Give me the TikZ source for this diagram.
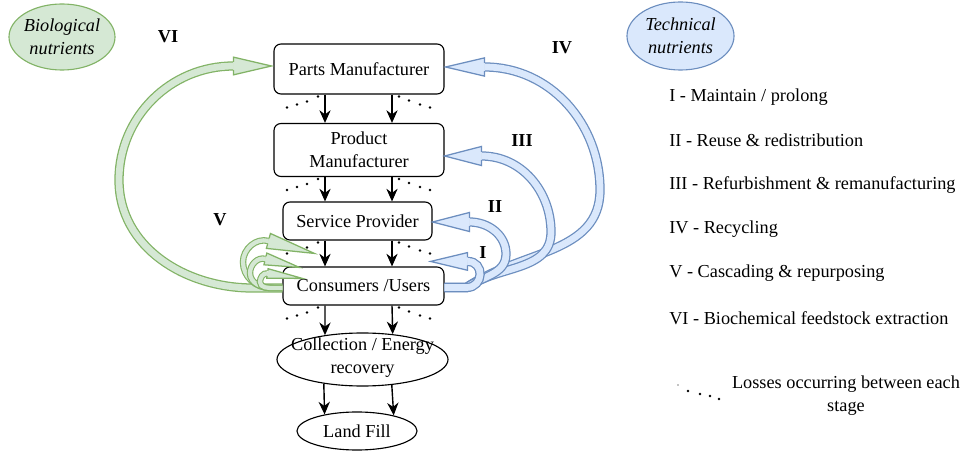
\documentclass[tikz,border=0pt]{standalone}
\usepackage{fontspec}
\setmainfont{Liberation Serif}
\usepackage{tikz}
\usetikzlibrary{arrows.meta}
\usetikzlibrary{positioning,calc}
\usetikzlibrary{shapes.geometric}
\newcommand{\diafont}{\fontsize{13}{16.5}\selectfont}
\tikzset{
    stage/.style={
      rectangle,
      rounded corners=5pt,
      draw=black,
      thick,
      align=center,
      inner sep=1.5pt
    },
    sink/.style={
      ellipse,
      draw=black,
      thick,
      inner sep=0pt
    },
    nutrient/.style={ellipse, inner sep=0pt, thick},
    phase/.style={font=\diafont\bfseries, inner sep=0pt},
    key/.style={anchor=west, inner sep=0pt},
    techbody/.style={draw=MyTechLine, line width=0.9pt, double=MyTech, double distance=4.8pt},
    techhead/.style={draw=MyTechLine, fill=MyTech, line width=0.9pt},
    biobody/.style={draw=MyBioLine, line width=0.9pt, double=MyBio, double distance=4.8pt},
    vbody/.style={draw=MyBioLine, line width=0.8pt, double=MyBio, double distance=3pt},
    biohead/.style={draw=MyBioLine, fill=MyBio, line width=0.9pt},
}
\definecolor{MyBio}{HTML}{D5E8D4}
\definecolor{MyBioLine}{HTML}{82B366}
\definecolor{MyTech}{HTML}{DAE8FC}
\definecolor{MyTechLine}{HTML}{6C8EBF}
% style, base, tip, head half width, body half width
\newcommand{\flexhead}[5]{%
  \filldraw[#1] ($(#2)!#5!90:(#3)$) -- ($(#2)!#4!90:(#3)$) -- (#3)
    -- ($(#2)!#4!-90:(#3)$) -- ($(#2)!#5!-90:(#3)$);
}
\newcommand{\lossdots}[1]{%
  \foreach \dx/\dy in {-7/2,-18/7,-28/10,-38/13}
    \fill ($(#1.south -| la)+(\dx,-\dy)$) circle (1pt);
  \foreach \dx/\dy in {7/2,17/6,28/10,38/13}
    \fill ($(#1.south -| ra)+(\dx,-\dy)$) circle (1pt);
}

\begin{document}
\begin{tikzpicture}[x=0.025cm,y=0.025cm,font=\diafont,>={Stealth[length=9pt,width=8pt]}]
    \useasboundingbox (0,0) rectangle (975,-452);

    \draw (359,-69) node[stage,minimum width=4.25cm,minimum height=1.25cm] (PM) {Parts Manufacturer};
    \draw (359,-150) node[stage,minimum width=4.25cm,minimum height=1.325cm] (PR) {Product\\Manufacturer};
    \draw (357.5,-221) node[stage,minimum width=3.725cm,minimum height=0.95cm] (SP) {Service Provider};
    \draw (363.5,-286) node[stage,minimum width=4.025cm,minimum height=0.95cm] (CU) {Consumers /Users};
    \draw (362.5,-359.5) node[sink,minimum width=4.275cm,minimum height=1.325cm] (CE) {};
    \draw (362.5,-358) node[align=center,inner sep=0pt] (CEt) {Collection / Energy\\recovery};
    \draw (357,-431) node[sink,minimum width=3cm,minimum height=0.95cm] (LF) {Land Fill};

    \coordinate (la) at (325,0);
    \coordinate (ra) at (392,0);
    \path (PM.south -| la) edge[->,line width=1pt] (PR.north -| la);
    \path (PM.south -| ra) edge[->,line width=1pt] (PR.north -| ra);
    \path (PR.south -| la) edge[->,line width=1pt] (SP.north -| la);
    \path (PR.south -| ra) edge[->,line width=1pt] (SP.north -| ra);
    \path (SP.south -| la) edge[->,line width=1pt] (CU.north -| la);
    \path (SP.south -| ra) edge[->,line width=1pt] (CU.north -| ra);
    \path (CU.south -| la) edge[->,line width=1pt] (CE.147.6);
    \path (CU.south -| ra) edge[->,line width=1pt] (CE.40.2);
    \path (CE.212.4) edge[->,line width=1pt] (LF.153.3);
    \path (CE.319.8) edge[->,line width=1pt] (LF.23.8);

    \lossdots{PM}
    \lossdots{PR}
    \lossdots{SP}
    \lossdots{CU}

    % technical loops
    \coordinate (fanT) at ($(CU.east)+(22,-1.5)$);
    \coordinate (IVb) at ($(PM.east)+(40,2)$);
    \coordinate (IVt) at ($(PM.east)+(1,2)$);
    \draw[techbody] ($(CU.east)+(0,-1.5)$) -- (fanT) to[out=35,in=-90] (600,-190) to[out=90,in=0] (IVb);
    \flexhead{techhead}{IVb}{IVt}{6.5pt}{2.85pt}
    \coordinate (IIIb) at ($(PR.east)+(37,-6)$);
    \coordinate (IIIt) at ($(PR.east)+(0,-6)$);
    \draw[techbody] ($(CU.east)+(0,-1.5)$) -- (fanT) to[out=35,in=-90] (551,-232) to[out=90,in=0] (IIIb);
    \flexhead{techhead}{IIIb}{IIIt}{6.8pt}{2.85pt}
    \coordinate (IIb) at ($(SP.east)+(37,-1)$);
    \coordinate (IIt) at ($(SP.east)+(0,-1)$);
    \draw[techbody] ($(CU.east)+(0,-1.5)$) -- (fanT) to[out=35,in=-90] (506,-254) to[out=90,in=0] (IIb);
    \flexhead{techhead}{IIb}{IIt}{6.8pt}{2.85pt}
    \coordinate (Ib) at ($(CU.north east)+(23,5)$);
    \coordinate (It) at ($(CU.north east)+(-14,5)$);
    \draw[techbody] ($(CU.east)+(0,-1.5)$) -- (fanT) to[out=0,in=0,looseness=1.7] (Ib);
    \flexhead{techhead}{Ib}{It}{6.3pt}{2.85pt}

    % biological loops
    \coordinate (fanB) at ($(CU.west)+(-30,-2)$);
    \coordinate (VIb) at ($(PM.west)+(-40,3)$);
    \coordinate (VIt) at ($(PM.west)+(-2,3)$);
    \draw[biobody] ($(CU.west)+(0,-2)$) -- (fanB) to[out=180,in=-90] (119,-180) to[out=90,in=180] (VIb);
    \flexhead{biohead}{VIb}{VIt}{6.3pt}{2.85pt}
    \coordinate (V1b) at ($(CU.north west)+(-14,25.5)$);
    \coordinate (V1t) at ($(CU.north west)+(32,13)$);
    \draw[vbody] ($(CU.west)+(0,-2)$) -- ($(CU.west)+(-12,-2)$) to[out=180,in=-90] (243,-262) to[out=90,in=165] (V1b);
    \flexhead{biohead}{V1b}{V1t}{5.5pt}{1.9pt}
    \coordinate (V2b) at ($(CU.north west)+(-17,7.5)$);
    \coordinate (V2t) at ($(CU.north west)+(17,-1)$);
    \draw[vbody] ($(CU.west)+(0,-2)$) -- ($(CU.west)+(-10,-2)$) to[out=180,in=-90] (250,-273) to[out=90,in=165] (V2b);
    \flexhead{biohead}{V2b}{V2t}{4.3pt}{1.9pt}
    \coordinate (V3b) at ($(CU.north west)+(-15,-7)$);
    \coordinate (V3t) at ($(CU.north west)+(20,-12)$);
    \draw[vbody] ($(CU.west)+(0,-2)$) -- ($(CU.west)+(-8,-2)$) to[out=180,in=-90] (260,-282) to[out=90,in=172] (V3b);
    \flexhead{biohead}{V3b}{V3t}{3.4pt}{1.9pt}

    \draw (62,-37) node[nutrient,draw=MyBioLine,fill=MyBio,minimum width=2.65cm,minimum height=1.65cm] (BN) {};
    \draw (62,-37) node[align=center,inner sep=0pt,font=\diafont\itshape] (BNt) {Biological\\nutrients};
    \draw (680.5,-36) node[nutrient,draw=MyTechLine,fill=MyTech,minimum width=2.675cm,minimum height=1.7cm] (TN) {};
    \draw (680.5,-36) node[align=center,inner sep=0pt,font=\diafont\itshape] (TNt) {Technical\\nutrients};

    \draw (168,-37) node[phase] (nVI) {VI};
    \draw (562,-48) node[phase] (nIV) {IV};
    \draw (522,-141) node[phase] (nIII) {III};
    \draw (495,-207) node[phase] (nII) {II};
    \draw (483,-253) node[phase] (nI) {I};
    \draw (220,-220) node[phase] (nV) {V};

    \draw (669,-97) node[key] (k1) {I - Maintain / prolong};
    \draw (669,-140) node[key] (k2) {II - Reuse \& redistribution};
    \draw (669,-185) node[key] (k3) {III - Refurbishment \& remanufacturing};
    \draw (669,-229) node[key] (k4) {IV - Recycling};
    \draw (669,-273) node[key] (k5) {V - Cascading \& repurposing};
    \draw (669,-318) node[key] (k6) {VI - Biochemical feedstock extraction};

    \coordinate (lossKey) at (678,-385);
    \fill (lossKey) circle (0.5pt);
    \foreach \dx/\dy in {10/6,22/9,32/11,41/14}
      \fill ($(lossKey)+(\dx,-\dy)$) circle (1pt);
    \draw (846,-396) node[align=center,inner sep=0pt] (kL) {Losses occurring between each\\stage};
\end{tikzpicture}
\end{document}
